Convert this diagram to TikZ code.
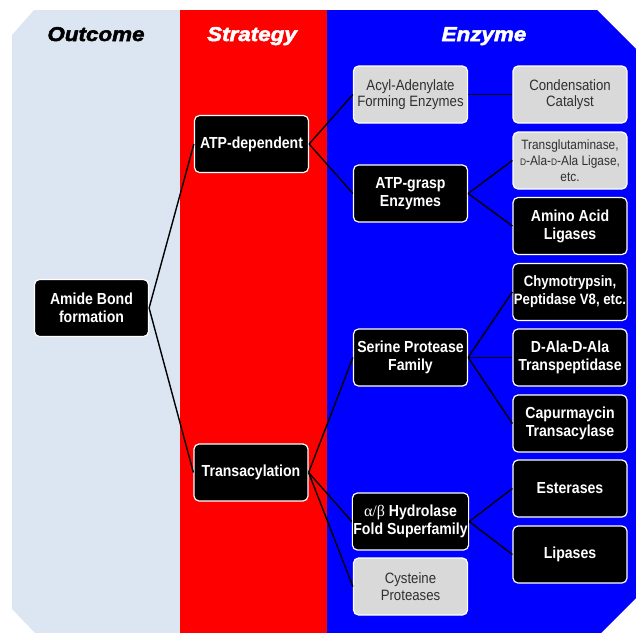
\documentclass[tikz,border=0pt]{standalone}
\usepackage{fontspec}
\setmainfont{Liberation Sans}
\newfontfamily\boxfont[FakeStretch=0.88]{Liberation Sans}
\newfontfamily\headfont[UprightFont=* Bold Italic, FakeBold=2.5, FakeStretch=1.12]{Liberation Sans}
\newfontfamily\greekfont{Liberation Serif}
\definecolor{paleblue}{HTML}{DCE6F2}
\definecolor{boxgray}{HTML}{D9D9D9}
\definecolor{graytext}{HTML}{303030}
\begin{document}
\begin{tikzpicture}[x=1pt,y=-1pt,
  darkbox/.style={draw=white, line width=1.2pt, fill=black, rounded corners=5pt,
    minimum width=114pt, minimum height=57pt, inner sep=1pt, align=center,
    text=white, font=\boxfont\bfseries\fontsize{16}{18}\selectfont},
  lightbox/.style={darkbox, fill=boxgray, text=graytext,
    font=\boxfont\fontsize{15}{16.5}\selectfont},
  link/.style={line width=1.4pt, draw=black},
  head/.style={font=\headfont\fontsize{20}{20}\selectfont, anchor=base, inner sep=0pt}
]
\useasboundingbox (0,0) rectangle (636,633);
\begin{scope}
  \clip (12,35) -- (34,10) -- (597,10) -- (636,49) -- (636,598) -- (601,633)
        -- (35,633) -- (12,609) -- cycle;
  \fill[paleblue] (0,0) rectangle (179.5,633);
  \fill[red] (179.5,0) rectangle (327,633);
  \fill[blue] (327,0) rectangle (636,633);
\end{scope}

\node[head, text=black] (hOut) at (96,41) {Outcome};
\node[head, text=white] (hStr) at (252,41) {Strategy};
\node[head, text=white] (hEnz) at (484,41) {Enzyme};

\node[darkbox] (amide) at (91.5,308) {Amide Bond\\formation};
\node[darkbox] (atpdep) at (251.5,144) {ATP-dependent};
\node[darkbox] (trans) at (251,472.5) {Transacylation};

\node[lightbox] (acyl) at (410.5,94.5) {Acyl-Adenylate\\Forming Enzymes};
\node[darkbox] (grasp) at (410.5,193.5) {ATP-grasp\\Enzymes};
\node[darkbox] (serine) at (410.5,357.5) {Serine Protease\\Family};
\node[darkbox] (hydro) at (410.5,521.5) {{\greekfont\mdseries α/β} Hydrolase\\Fold Superfamily};
\node[lightbox] (cys) at (410.5,586.5) {Cysteine\\Proteases};

\node[lightbox] (cond) at (570,94.5) {Condensation\\Catalyst};
\node[lightbox, font=\boxfont\fontsize{13.5}{16}\selectfont] (tglut) at (570,160.5)
  {Transglutaminase,\\{\fontsize{9.5}{9.5}\selectfont D}-Ala-{\fontsize{9.5}{9.5}\selectfont D}-Ala Ligase,\\etc.};
\node[darkbox] (amino) at (570,226) {Amino Acid\\Ligases};
\node[darkbox, font=\boxfont\bfseries\fontsize{15}{18}\selectfont] (chymo) at (570,292) {Chymotrypsin,\\Peptidase V8, etc.};
\node[darkbox] (dala) at (570,357.5) {D-Ala-D-Ala\\Transpeptidase};
\node[darkbox] (capur) at (570,423.5) {Capurmaycin\\Transacylase};
\node[darkbox] (est) at (570,488.5) {Esterases};
\node[darkbox] (lip) at (570,554.5) {Lipases};

\draw[link] (amide.east) -- (atpdep.west);
\draw[link] (amide.east) -- (trans.west);
\draw[link] (atpdep.east) -- (acyl.west);
\draw[link] (atpdep.east) -- (grasp.west);
\draw[link] (acyl.east) -- (cond.west);
\draw[link] (grasp.east) -- (tglut.west);
\draw[link] (grasp.east) -- (amino.west);
\draw[link] (trans.east) -- (serine.west);
\draw[link] (trans.east) -- (hydro.west);
\draw[link] (trans.east) -- (cys.west);
\draw[link] (serine.east) -- (chymo.west);
\draw[link] (serine.east) -- (dala.west);
\draw[link] (serine.east) -- (capur.west);
\draw[link] (hydro.east) -- (est.west);
\draw[link] (hydro.east) -- (lip.west);
\end{tikzpicture}
\end{document}
